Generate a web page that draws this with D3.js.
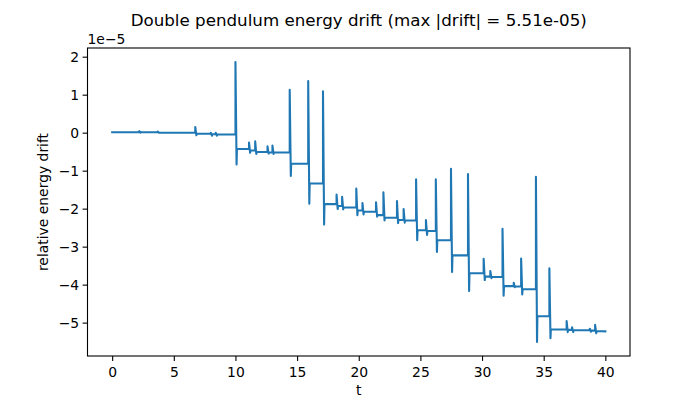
<!DOCTYPE html>
<html>
<head>
<meta charset="utf-8">
<script src="https://cdn.jsdelivr.net/npm/d3@7"></script>
<style>
  body { margin: 0; background: #fff; }
  svg { font-family: "DejaVu Sans", sans-serif; }
</style>
</head>
<body>
<script>
// drift values are in units of 1e-5
var startT = 0, startLevel = 0.01;
var endT = 40, endLevel = -5.23;
// each event: time, spike top, spike bottom, plateau level after it
var eventT      = [2.2, 3.7, 6.74, 8.0, 8.4, 10.0, 11.1, 11.6, 12.6, 13.0, 14.4, 15.9, 17.1, 18.2, 18.65, 19.8, 20.3, 21.4, 22.0, 23.1, 23.64, 24.65, 25.45, 26.25, 27.48, 28.86, 30.13, 30.67, 31.66, 32.57, 33.17, 34.37, 35.46, 36.86, 37.3, 38.74, 39.17];
var eventTop    = [0.04, 0.03, 0.15, 0.0, 0.0, 1.86, -0.26, -0.23, -0.36, -0.34, 1.13, 1.36, 1.09, -1.63, -1.69, -1.47, -1.85, -1.83, -1.57, -1.80, -2.01, -1.23, -2.30, -1.23, -0.95, -1.09, -3.32, -3.64, -2.53, -3.95, -3.31, -1.16, -3.57, -4.96, -5.12, -5.16, -5.06];
var eventBottom = [0.0, 0.0, -0.07, -0.08, -0.08, -0.84, -0.53, -0.56, -0.55, -0.56, -1.14, -1.87, -2.42, -2.01, -2.02, -2.17, -2.15, -2.21, -2.31, -2.38, -2.37, -2.83, -2.69, -3.14, -3.67, -4.17, -3.88, -3.83, -4.29, -4.07, -4.26, -5.51, -5.41, -5.25, -5.25, -5.24, -5.28];
var eventAfter  = [0.01, 0.0, -0.03, -0.04, -0.05, -0.43, -0.47, -0.51, -0.52, -0.52, -0.82, -1.34, -1.88, -1.93, -1.97, -2.05, -2.08, -2.17, -2.24, -2.30, -2.31, -2.57, -2.59, -2.83, -3.23, -3.70, -3.79, -3.80, -4.04, -4.05, -4.12, -4.83, -5.18, -5.19, -5.20, -5.21, -5.22];
var xTicks = [0, 5, 10, 15, 20, 25, 30, 35, 40];
var yTicks = [-5, -4, -3, -2, -1, 0, 1, 2];
var maxDrift = "5.51e-05";

// build the polyline, each spike drawn as a quick up/down swing
var pts = [[startT, startLevel]];
var prev = startLevel;
eventT.forEach(function(t, i) {
  pts.push([t, prev]);
  pts.push([t, eventTop[i]]);
  pts.push([t + 0.09, eventBottom[i]]);
  pts.push([t + 0.12, eventAfter[i]]);
  prev = eventAfter[i];
});
pts.push([endT, endLevel]);

var W = 700, H = 400;
var margin = {top: 48, right: 70, bottom: 44, left: 87.5};
var width = W - margin.left - margin.right,
    height = H - margin.top - margin.bottom;

var svg = d3.select("body").append("svg")
    .attr("width", W)
    .attr("height", H);

var g = svg.append("g")
    .attr("transform", "translate(" + margin.left + "," + margin.top + ")");

// matplotlib style 5% margins
var xmin = 0, xmax = 40;
var ymin = d3.min(pts, function(d) { return d[1]; }), ymax = d3.max(pts, function(d) { return d[1]; });
var xpad = (xmax - xmin) * 0.05, ypad = (ymax - ymin) * 0.05;

var x = d3.scaleLinear().domain([xmin - xpad, xmax + xpad]).range([0, width]);
var y = d3.scaleLinear().domain([ymin - ypad, ymax + ypad]).range([height, 0]);

function fmt(v) { return String(v).replace("-", "\u2212"); }

g.append("path")
    .datum(pts)
    .attr("fill", "none")
    .attr("stroke", "#1f77b4")
    .attr("stroke-width", 2.08)
    .attr("stroke-linejoin", "round")
    .attr("stroke-linecap", "square")
    .attr("d", d3.line().x(function(d) { return x(d[0]); }).y(function(d) { return y(d[1]); }));

// axes
var xAxis = g.append("g")
    .attr("transform", "translate(0," + height + ")")
    .call(d3.axisBottom(x).tickValues(xTicks).tickSize(4.9).tickPadding(3.5).tickFormat(fmt));
var yAxis = g.append("g")
    .call(d3.axisLeft(y).tickValues(yTicks).tickSize(4.9).tickPadding(3.5).tickFormat(fmt));

[xAxis, yAxis].forEach(function(a) {
  a.select(".domain").remove();
  a.selectAll("line").attr("stroke", "#000").attr("stroke-width", 1.1);
  a.selectAll("text").attr("fill", "#000").style("font-size", "13.9px").style("font-family", "DejaVu Sans");
});
xAxis.selectAll("text").attr("dy", "0.9em");

// frame
g.append("rect")
    .attr("width", width)
    .attr("height", height)
    .attr("fill", "none")
    .attr("stroke", "#000")
    .attr("stroke-width", 1.1);

// offset text
svg.append("text")
    .attr("x", margin.left)
    .attr("y", 44)
    .style("font-size", "13.9px")
    .text("1e\u22125");

svg.append("text")
    .attr("x", margin.left + width / 2)
    .attr("y", 25.5)
    .attr("text-anchor", "middle")
    .style("font-size", "16.7px")
    .text("Double pendulum energy drift (max |drift| = " + maxDrift + ")");

svg.append("text")
    .attr("x", margin.left + width / 2)
    .attr("y", 395)
    .attr("text-anchor", "middle")
    .style("font-size", "13.9px")
    .text("t");

svg.append("text")
    .attr("transform", "translate(48," + (margin.top + height / 2) + ") rotate(-90)")
    .attr("text-anchor", "middle")
    .style("font-size", "13.9px")
    .text("relative energy drift");
</script>
</body>
</html>
